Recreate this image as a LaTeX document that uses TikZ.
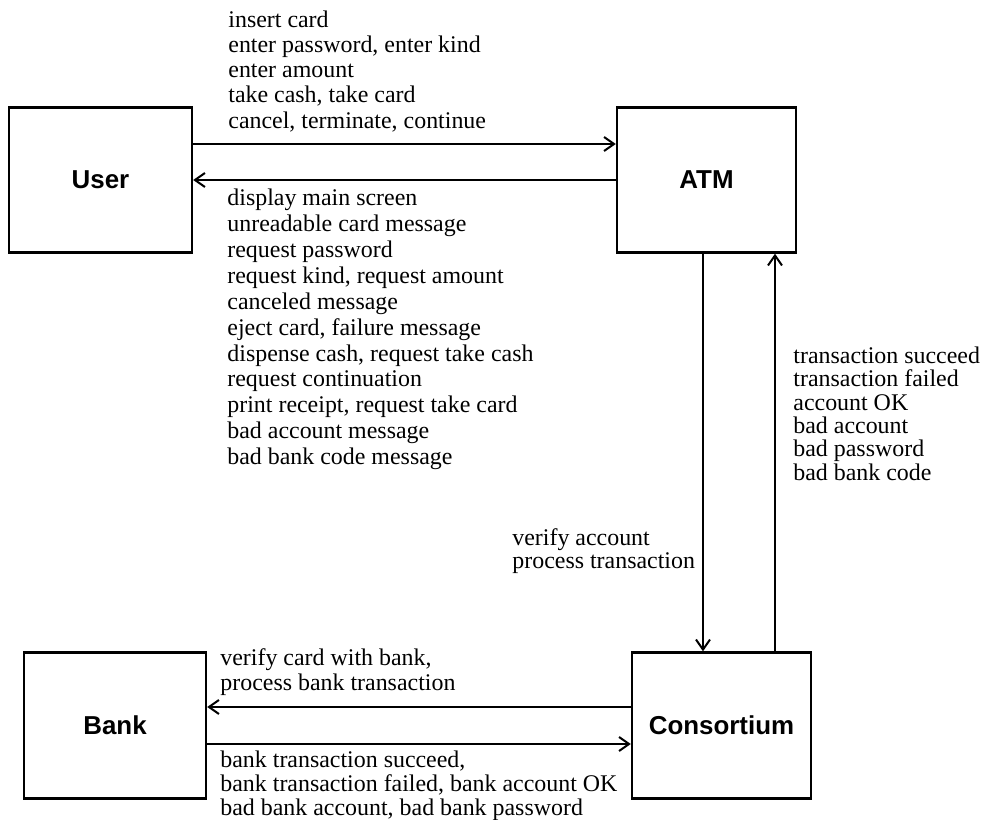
\documentclass[tikz,border=0pt]{standalone}
\usepackage{fontspec}
\setmainfont{Liberation Serif}
\setsansfont{Liberation Sans}
\usetikzlibrary{arrows.meta,positioning}

\begin{document}
\begin{tikzpicture}[x=0.5bp, y=-0.5bp,
  blockbox/.style={draw, line width=1.2bp, inner sep=0pt, font=\sffamily\bfseries\fontsize{13}{15}\selectfont},
  msg/.style={anchor=north west, align=left, inner sep=0pt},
  flow/.style={line width=1bp, -{Straight Barb[length=5bp,width=7bp]}}]
\useasboundingbox (0,0) rectangle (984,820);
% ---------- the four boxes ----------
\node[blockbox, minimum width=91.5bp, minimum height=72.5bp] (user) at (100.5,180) {User};
\node[blockbox, minimum width=89.5bp, minimum height=72.5bp] (atm) at (706.5,180) {ATM};
\node[blockbox, minimum width=91bp, minimum height=73bp] (bank) at (115,725.5) {Bank};
\node[blockbox, minimum width=89.5bp, minimum height=73bp] (cons) at (721.5,725.5) {Consortium};
% ---------- User <-> ATM ----------
\draw[flow] ([yshift=18bp]user.east) -- ([yshift=18bp]atm.west);
\draw[flow] (atm.west) -- (user.east);
\node[msg, font=\fontsize{12}{12.6}\selectfont] (userin) at (228,10.6)
  {insert card\\enter password, enter kind\\enter amount\\take cash, take card\\cancel, terminate, continue};
\node[msg, font=\fontsize{12}{13}\selectfont] (atmout) at (227,188.6)
  {display main screen\\unreadable card message\\request password\\request kind, request amount\\canceled message\\eject card, failure message\\dispense cash, request take cash\\request continuation\\print receipt, request take card\\bad account message\\bad bank code message};
% ---------- ATM <-> Consortium ----------
\coordinate (downtop) at ([xshift=-1.75bp]atm.south);
\coordinate (upfoot) at ([xshift=26.75bp]cons.north);
\draw[flow] (downtop) -- (downtop |- cons.north);
\draw[flow] (upfoot) -- (upfoot |- atm.south);
\node[msg, font=\fontsize{12}{11.5}\selectfont] (atmreq) at (512,528.6)
  {verify account\\process transaction};
\node[msg, font=\fontsize{12}{11.7}\selectfont] (consreply) at (793,346.6)
  {transaction succeed\\transaction failed\\account OK\\bad account\\bad password\\bad bank code};
% ---------- Consortium <-> Bank ----------
\draw[flow] ([yshift=9.25bp]cons.west) -- ([yshift=9.25bp]bank.east);
\draw[flow] ([yshift=-9.25bp]bank.east) -- ([yshift=-9.25bp]cons.west);
\node[msg, font=\fontsize{12}{12.5}\selectfont] (consreq) at (220,648.6)
  {verify card with bank,\\process bank transaction};
\node[msg, font=\fontsize{12}{12}\selectfont] (bankreply) at (220,750.6)
  {bank transaction succeed,\\bank transaction failed, bank account OK\\bad bank account, bad bank password};
\end{tikzpicture}
\end{document}
